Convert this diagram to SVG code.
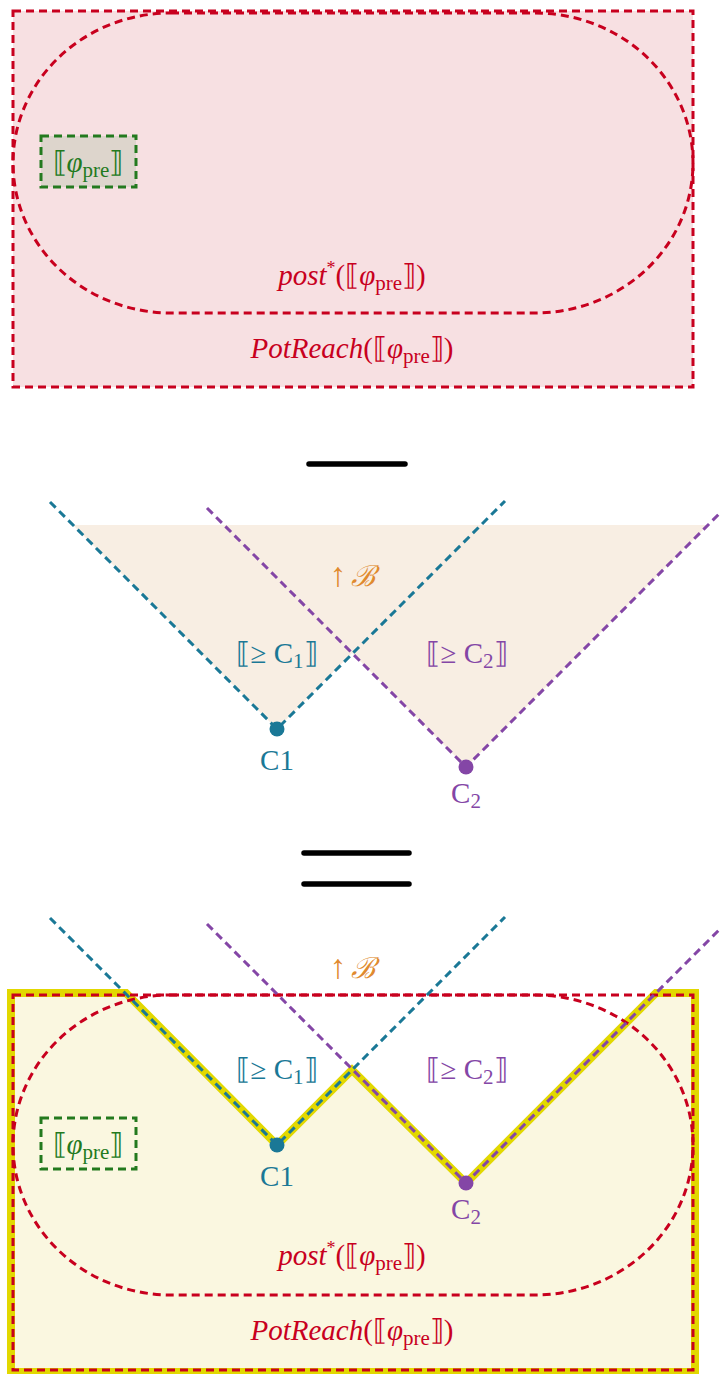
<svg xmlns="http://www.w3.org/2000/svg" width="724" height="1374" viewBox="0 0 724 1374">
<style>
.red{fill:none;stroke:#c8001e;stroke-width:3;stroke-dasharray:8,5}
.grn{stroke:#237a1e;stroke-width:3;stroke-dasharray:8,5}
.teal{fill:none;stroke:#1a7896;stroke-width:3;stroke-dasharray:8,5}
.pur{fill:none;stroke:#8446a6;stroke-width:3;stroke-dasharray:8,5}
.bar{stroke:#000;stroke-width:5.5;stroke-linecap:round}
text{font-family:"Liberation Serif","DejaVu Serif",serif;font-size:29px;text-anchor:middle}
.it{font-style:italic}
.tr{fill:#c8001e}.tg{fill:#237a1e}.tt{fill:#1a7896}.tp{fill:#8446a6}.to{fill:#e08a2e}
</style>
<g id="top">
<rect x="13" y="11" width="680" height="376" class="red" style="fill:#f7e0e2"/>
<rect x="13" y="13" width="680" height="300" rx="158" ry="150" class="red"/>
<g id="pre-top"><rect x="41" y="136" width="95" height="51" fill="#ddd5cc" class="grn"/>
<text x="88" y="172" class="tg">⟦<tspan class="it">φ</tspan><tspan font-size="21" dy="5">pre</tspan><tspan dy="-5">⟧</tspan></text></g>
<text x="352" y="285" class="tr"><tspan class="it">post</tspan><tspan font-size="18" dy="-11">*</tspan><tspan dy="11">(⟦</tspan><tspan class="it">φ</tspan><tspan font-size="21" dy="5">pre</tspan><tspan dy="-5">⟧)</tspan></text>
<text x="352" y="358" class="tr"><tspan class="it">PotReach</tspan>(⟦<tspan class="it">φ</tspan><tspan font-size="21" dy="5">pre</tspan><tspan dy="-5">⟧)</tspan></text>
</g>
<line x1="309" y1="464" x2="405" y2="464" class="bar"/>
<g id="middle">
<polygon points="73,525 708,525 466,767 352,653 277,729" fill="#f8eee3"/>
<g id="conn-mid">
<polyline points="50,502 277,729 505,501" class="teal"/>
<polyline points="207,508 466,767 720,513" class="pur"/>
</g>
<g id="c1-mid"><circle cx="277" cy="729" r="7.5" fill="#1a7896"/><text x="277" y="770" class="tt">C1</text></g>
<g id="c2-mid"><circle cx="466" cy="767" r="7.5" fill="#8446a6"/><text x="466" y="803" class="tp">C<tspan font-size="21" dy="5">2</tspan></text></g>
<text x="352" y="586" class="to"><tspan font-size="34">↑</tspan><tspan class="it" dx="4">ℬ</tspan></text>
<text x="277" y="663" class="tt">⟦≥ C<tspan font-size="21" dy="5">1</tspan><tspan dy="-5">⟧</tspan></text>
<text x="467" y="663" class="tp">⟦≥ C<tspan font-size="21" dy="5">2</tspan><tspan dy="-5">⟧</tspan></text>
</g>
<line x1="304" y1="853" x2="409" y2="853" class="bar"/>
<line x1="304" y1="884" x2="409" y2="884" class="bar"/>
<g id="bottom">
<polygon points="11,993 126,993 277,1145 352,1070 466,1183 656,993 695,993 695,1372 11,1372" fill="#faf7e0" stroke="#e2d800" stroke-width="8" stroke-linejoin="miter"/>
<rect x="13" y="995" width="680" height="375" class="red"/>
<rect x="13" y="995" width="680" height="300" rx="158" ry="150" class="red"/>
<g id="conn-bot">
<polyline points="50,918 277,1145 505,917" class="teal"/>
<polyline points="207,924 466,1183 720,929" class="pur"/>
</g>
<g id="pre-bot"><rect x="41" y="1118" width="95" height="51" fill="none" class="grn"/>
<text x="88" y="1154" class="tg">⟦<tspan class="it">φ</tspan><tspan font-size="21" dy="5">pre</tspan><tspan dy="-5">⟧</tspan></text></g>
<g id="c1-bot"><circle cx="277" cy="1145" r="7.5" fill="#1a7896"/><text x="277" y="1186" class="tt">C1</text></g>
<g id="c2-bot"><circle cx="466" cy="1183" r="7.5" fill="#8446a6"/><text x="466" y="1219" class="tp">C<tspan font-size="21" dy="5">2</tspan></text></g>
<text x="352" y="978" class="to"><tspan font-size="34">↑</tspan><tspan class="it" dx="4">ℬ</tspan></text>
<text x="277" y="1079" class="tt">⟦≥ C<tspan font-size="21" dy="5">1</tspan><tspan dy="-5">⟧</tspan></text>
<text x="467" y="1079" class="tp">⟦≥ C<tspan font-size="21" dy="5">2</tspan><tspan dy="-5">⟧</tspan></text>
<text x="352" y="1265" class="tr"><tspan class="it">post</tspan><tspan font-size="18" dy="-11">*</tspan><tspan dy="11">(⟦</tspan><tspan class="it">φ</tspan><tspan font-size="21" dy="5">pre</tspan><tspan dy="-5">⟧)</tspan></text>
<text x="352" y="1340" class="tr"><tspan class="it">PotReach</tspan>(⟦<tspan class="it">φ</tspan><tspan font-size="21" dy="5">pre</tspan><tspan dy="-5">⟧)</tspan></text>
</g>
</svg>
